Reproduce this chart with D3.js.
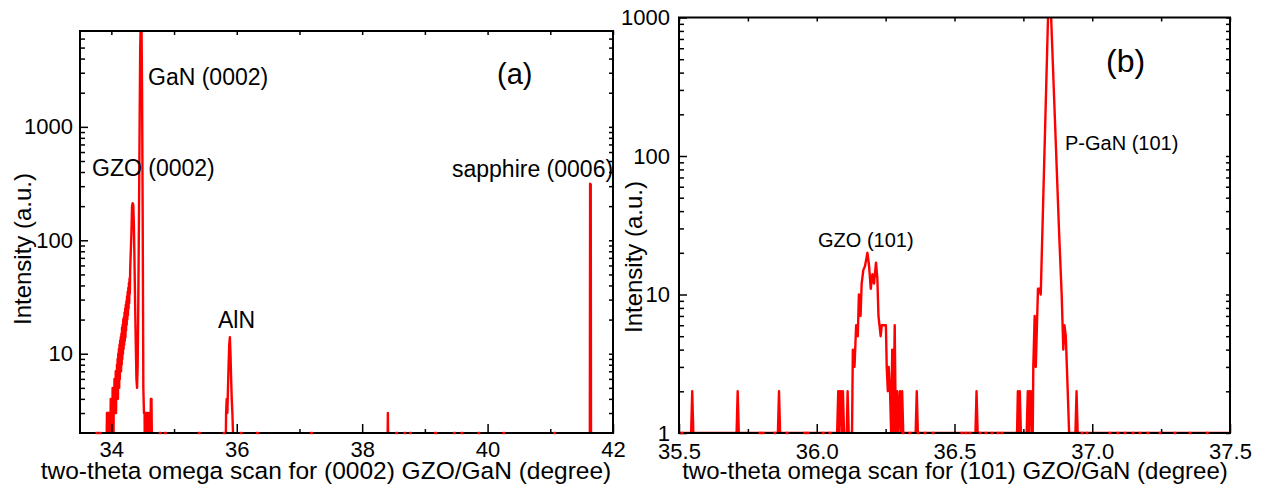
<!DOCTYPE html>
<html>
<head>
<meta charset="utf-8">
<script src="https://cdn.jsdelivr.net/npm/d3@7"></script>
<style>
    body { margin: 0; background: #fff; }
    svg { display: block; }
    text { font-family: "Liberation Sans", Arial, sans-serif; fill: #000; }
</style>
</head>
<body>
<svg id="chart" width="1263" height="495"></svg>
<script>
// ---- data: [two-theta (deg), counts] ----
// counts of 1 sit on / below the bottom of the log axis (background)
let scanA = [
    [33.50, 1], [33.92, 1], [33.93, 3], [33.935, 1], [33.94, 3], [33.945, 2], [33.95, 3], [33.955, 1],
    [33.96, 3], [33.965, 2], [33.97, 3], [33.975, 1], [33.98, 3], [33.985, 2], [33.99, 4], [33.995, 2],
    [34.00, 4], [34.005, 2], [34.01, 4], [34.015, 2], [34.02, 5], [34.025, 2], [34.03, 5], [34.035, 2],
    [34.04, 5], [34.045, 3], [34.05, 6], [34.055, 3], [34.06, 6], [34.065, 3], [34.07, 7], [34.075, 3],
    [34.08, 7], [34.085, 4], [34.09, 8], [34.095, 4], [34.10, 9], [34.105, 4], [34.11, 10], [34.115, 5],
    [34.12, 11], [34.125, 5], [34.13, 12], [34.135, 6], [34.14, 13], [34.145, 7], [34.15, 14], [34.155, 7],
    [34.16, 15], [34.165, 8], [34.17, 17], [34.175, 9], [34.18, 18], [34.185, 10], [34.19, 20], [34.195, 11],
    [34.20, 21], [34.205, 12], [34.21, 23], [34.215, 13], [34.22, 25], [34.225, 14], [34.23, 27], [34.235, 16],
    [34.24, 29], [34.245, 18], [34.25, 32], [34.255, 20], [34.26, 35], [34.265, 22], [34.27, 38], [34.275, 25],
    [34.28, 42], [34.285, 28], [34.29, 46], [34.295, 34], [34.30, 55], [34.31, 80], [34.32, 115], [34.33, 200],
    [34.34, 212], [34.35, 205], [34.36, 130], [34.37, 60], [34.38, 25], [34.39, 12], [34.40, 6], [34.41, 5],
    [34.42, 8], [34.43, 30], [34.44, 150], [34.45, 900], [34.46, 5000], [34.47, 9000], [34.48, 9000], [34.49, 2000],
    [34.50, 150], [34.51, 5], [34.52, 3], [34.53, 3], [34.535, 1], [34.54, 3], [34.55, 3], [34.56, 2],
    [34.57, 3], [34.58, 3], [34.59, 1], [34.60, 3], [34.61, 1], [34.62, 1], [34.63, 4], [34.64, 4], [34.65, 1],
    [35.82, 1], [35.83, 3], [35.84, 4], [35.85, 3], [35.86, 5], [35.87, 8], [35.88, 12], [35.89, 14],
    [35.90, 10], [35.91, 6], [35.92, 4], [35.93, 3], [35.94, 2], [35.95, 1],
    [38.40, 1], [38.41, 3], [38.42, 1],
    [41.63, 1], [41.635, 315], [41.645, 310], [41.65, 1], [42.00, 1]
];

let scanB = [
    [35.500, 1], [35.544, 1], [35.548, 2], [35.552, 1],
    [35.709, 1], [35.713, 2], [35.717, 1],
    [35.859, 1], [35.863, 2], [35.867, 1],
    [36.074, 1], [36.078, 2], [36.081, 1], [36.084, 2], [36.088, 2], [36.091, 1], [36.095, 2], [36.099, 1],
    [36.109, 1], [36.112, 2], [36.116, 1],
    [36.128, 1], [36.131, 4], [36.137, 3], [36.143, 6], [36.149, 5], [36.153, 10], [36.159, 7], [36.163, 12],
    [36.169, 15], [36.175, 16], [36.184, 20], [36.190, 16], [36.196, 11], [36.202, 14], [36.208, 12],
    [36.215, 17], [36.220, 13], [36.224, 7], [36.232, 5], [36.236, 6], [36.251, 6], [36.254, 3], [36.258, 2],
    [36.261, 3], [36.266, 2], [36.270, 1], [36.274, 4], [36.278, 1], [36.283, 6], [36.287, 1], [36.292, 2],
    [36.296, 1], [36.302, 2], [36.306, 1], [36.310, 2], [36.314, 1],
    [36.359, 1], [36.363, 2], [36.367, 1],
    [36.576, 1], [36.580, 2], [36.584, 1],
    [36.727, 1], [36.730, 2], [36.734, 1], [36.737, 2], [36.741, 1],
    [36.762, 1], [36.766, 2], [36.770, 1], [36.773, 2], [36.777, 2], [36.780, 1],
    [36.784, 1], [36.786, 3], [36.791, 7], [36.795, 3], [36.803, 11], [36.808, 11], [36.813, 10],
    [36.840, 1100], [36.850, 1100], [36.880, 27], [36.889, 10], [36.895, 4], [36.899, 6], [36.904, 5],
    [36.911, 2], [36.916, 1],
    [36.939, 1], [36.943, 2], [36.947, 1], [37.500, 1]
];

// isolated single counts that show up as red specks on the bottom axis
let specksA = [33.77, 33.82, 34.78, 34.86, 35.40, 35.80, 36.07, 36.33, 37.19, 38.55, 38.68, 38.77,
    39.17, 39.47, 39.59, 39.86, 40.26, 41.07];
let specksB = [35.511, 35.794, 35.805, 35.848, 35.892, 35.957, 35.968, 36.023, 36.048, 36.313, 36.338,
    36.368, 36.393, 36.422, 36.527, 36.541, 36.556, 36.593, 36.614, 36.636, 36.658, 36.672, 36.963,
    36.981, 37.064, 37.093, 37.119, 37.148, 37.173, 37.202, 37.246, 37.300, 37.355, 37.417];

let xTicksA = [34, 36, 38, 40, 42];
let xMinorA = [35, 37, 39, 41];
let yTicksA = [10, 100, 1000];
let xTicksB = [35.5, 36.0, 36.5, 37.0, 37.5];
let xMinorB = [35.75, 36.25, 36.75, 37.25];
let yTicksB = [1, 10, 100, 1000];

let titlesX = ['two-theta omega scan for (0002) GZO/GaN (degree)', 'two-theta omega scan for (101) GZO/GaN (degree)'];
let titleY = 'Intensity (a.u.)';
let peakLabelsA = ['GaN (0002)', 'GZO (0002)', 'AlN', 'sapphire (0006)'];
let peakLabelsB = ['GZO (101)', 'P-GaN (101)'];
let panelNames = ['(a)', '(b)'];

let svg = d3.select('#chart');

function drawPanel(p) {
    let x = d3.scaleLinear().domain(p.xDomain).range([p.left, p.right]);
    let y = d3.scaleLog().domain(p.yDomain).range([p.bottom, p.top]);
    let g = svg.append('g');

    g.append('clipPath').attr('id', p.id)
        .append('rect')
        .attr('x', p.left).attr('y', p.top)
        .attr('width', p.right - p.left).attr('height', p.bottom - p.top);

    let line = d3.line().x(d => x(d[0])).y(d => y(d[1]));
    g.append('path')
        .datum(p.scan)
        .attr('clip-path', `url(#${p.id})`)
        .attr('d', line)
        .attr('fill', 'none')
        .attr('stroke', '#ff0000')
        .attr('stroke-width', 2.4)
        .attr('stroke-linejoin', 'round');

    let yMinor = y.ticks().filter(v => !p.yTicks.includes(v) && v > p.yDomain[0] && v < p.yDomain[1]);

    let axes = [
        [d3.axisBottom(x).tickValues(p.xTicks).tickSize(-9).tickPadding(p.xPad).tickFormat(p.xFmt), `translate(0,${p.bottom})`],
        [d3.axisBottom(x).tickValues(p.xMinor).tickSize(-4).tickFormat(''), `translate(0,${p.bottom})`],
        [d3.axisTop(x).tickValues(p.xTicks.concat(p.xMinor)).tickSize(-4).tickFormat(''), `translate(0,${p.top})`],
        [d3.axisLeft(y).tickValues(p.yTicks).tickSize(-8).tickPadding(p.yPad).tickFormat(d3.format('d')), `translate(${p.left},0)`],
        [d3.axisLeft(y).tickValues(yMinor).tickSize(-5).tickFormat(''), `translate(${p.left},0)`],
        [d3.axisRight(y).tickValues(p.yTicks.concat(yMinor)).tickSize(-4).tickFormat(''), `translate(${p.right},0)`]
    ];
    axes.forEach(([axis, tr]) => {
        let ax = g.append('g').attr('transform', tr).call(axis);
        ax.select('.domain').remove();
        ax.selectAll('line').attr('stroke', '#000').attr('stroke-width', 1.5);
        ax.selectAll('text').attr('font-size', 22).attr('font-family', '"Liberation Sans", Arial, sans-serif').attr('fill', '#000');
    });

    g.append('rect')
        .attr('x', p.left).attr('y', p.top)
        .attr('width', p.right - p.left).attr('height', p.bottom - p.top)
        .attr('fill', 'none').attr('stroke', '#000').attr('stroke-width', 2);

    g.selectAll('.speck')
        .data(p.specks)
        .enter().append('rect')
        .attr('x', d => x(d) - 1.5)
        .attr('y', p.bottom - 1.2)
        .attr('width', 3).attr('height', 2.4)
        .attr('fill', '#ff0000');

    g.append('text')
        .attr('x', p.titleX).attr('y', 479)
        .attr('text-anchor', 'middle').attr('font-size', p.titleSize)
        .text(p.title);

    g.append('text')
        .attr('transform', `translate(${p.yTitleX},${p.yTitleY}) rotate(-90)`)
        .attr('text-anchor', 'middle').attr('font-size', 24)
        .text(titleY);

    return { x, y, g };
}

let a = drawPanel({
    id: 'clipA', scan: scanA, specks: specksA,
    left: 80, right: 613, top: 31, bottom: 433,
    xDomain: [33.5, 42], yDomain: [2, 7000],
    xTicks: xTicksA, xMinor: xMinorA, yTicks: yTicksA,
    xFmt: d3.format('d'), xPad: 8, yPad: 7,
    title: titlesX[0], titleX: 326, titleSize: 24.5, yTitleX: 31, yTitleY: 249
});

let b = drawPanel({
    id: 'clipB', scan: scanB, specks: specksB,
    left: 679, right: 1230, top: 17.5, bottom: 433,
    xDomain: [35.5, 37.5], yDomain: [1, 1000],
    xTicks: xTicksB, xMinor: xMinorB, yTicks: yTicksB,
    xFmt: d3.format('.1f'), xPad: 10, yPad: 9,
    title: titlesX[1], titleX: 955, titleSize: 24, yTitleX: 642, yTitleY: 257
});

// peak annotations
let annA = [[148, 85], [92, 176], [218, 328], [452, 177]];
a.g.selectAll('.peak')
    .data(peakLabelsA)
    .enter().append('text')
    .attr('x', (d, i) => annA[i][0]).attr('y', (d, i) => annA[i][1])
    .attr('font-size', 23)
    .text(d => d);

let annB = [[818, 247], [1065, 150]];
b.g.selectAll('.peak')
    .data(peakLabelsB)
    .enter().append('text')
    .attr('x', (d, i) => annB[i][0]).attr('y', (d, i) => annB[i][1])
    .attr('font-size', 20)
    .text(d => d);

a.g.append('text').attr('x', 497).attr('y', 84).attr('font-size', 29).text(panelNames[0]);
b.g.append('text').attr('x', 1106).attr('y', 72).attr('font-size', 32).text(panelNames[1]);
</script>
</body>
</html>
